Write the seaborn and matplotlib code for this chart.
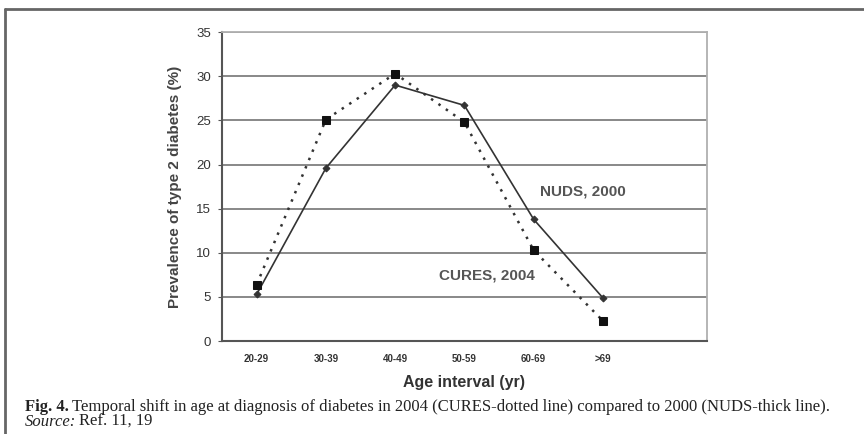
import numpy as np
import pandas as pd
import matplotlib.pyplot as plt
import seaborn as sns

# ======================= DATA ======================
age_groups = ["20-29", "30-39", "40-49", "50-59", "60-69", ">69"]
nuds_2000 = [5.3, 19.6, 29.0, 26.7, 13.8, 4.9]
cures_2004 = [6.4, 25.1, 30.3, 24.8, 10.3, 2.3]

df = pd.DataFrame({
    "pos": list(range(len(age_groups))) * 2,
    "age": age_groups * 2,
    "prevalence": nuds_2000 + cures_2004,
    "study": ["NUDS, 2000"] * len(age_groups) + ["CURES, 2004"] * len(age_groups),
})

sns.set_style("white")
plt.rcParams['font.family'] = ['Liberation Sans', 'DejaVu Sans']
serif = ["Liberation Serif", "DejaVu Serif"]

fig = plt.figure(figsize=(8.64, 4.34), dpi=100)
ax = fig.add_axes([0.257, 0.214, 0.561, 0.712])

# gridlines
ax.set_axisbelow(True)
ax.yaxis.grid(True, color="#888888", linewidth=1.4)

# NUDS - thick (solid) line
sns.lineplot(data=df[df.study == "NUDS, 2000"], x="pos", y="prevalence", ax=ax,
             color="#333333", linewidth=1.2, marker="D", markersize=3.5,
             markeredgecolor="#333333", legend=False)
# CURES - dotted line
sns.lineplot(data=df[df.study == "CURES, 2004"], x="pos", y="prevalence", ax=ax,
             color="#333333", linewidth=1.8, linestyle=(0, (1, 2.6)), marker="s",
             markersize=6, markerfacecolor="#111111", markeredgecolor="#111111",
             legend=False)

ax.set_xlim(-0.5, 6.5)
ax.set_ylim(0, 35)
ax.set_yticks(np.arange(0, 36, 5))
ax.set_xticks(range(len(age_groups)))
ax.set_xticklabels(age_groups, fontsize=7, fontweight="bold", color="#333333")
ax.set_xticks(np.arange(-0.5, 7, 1), minor=True)
ax.tick_params(axis="x", which="major", length=0, pad=9)
ax.tick_params(axis="x", which="minor", length=3, direction="inout", color="#555555")
ax.tick_params(axis="y", length=3, direction="out", color="#555555", labelsize=9.5,
               labelcolor="#333333", left=True, pad=5)

for side in ["left", "bottom"]:
    ax.spines[side].set_color("#555555")
    ax.spines[side].set_linewidth(1.5)
for side in ["right", "top"]:
    ax.spines[side].set_color("#b0b0b0")
    ax.spines[side].set_linewidth(1.3)

ax.set_xlabel("Age interval (yr)", fontsize=11.5, fontweight="bold", color="#333333", labelpad=8)
ax.set_ylabel("Prevalence of type 2 diabetes (%)", fontsize=11, fontweight="bold",
              color="#444444", labelpad=10)

ax.text(4.71, 16.9, "NUDS, 2000", fontsize=11, fontweight="bold", color="#555555",
        ha="center", va="center")
ax.text(3.32, 7.4, "CURES, 2004", fontsize=11, fontweight="bold", color="#555555",
        ha="center", va="center")

# frame lines of the scanned page
fig.add_artist(plt.Line2D([0.006, 1.0], [0.979, 0.979], color="#666666", linewidth=2,
                          transform=fig.transFigure))
fig.add_artist(plt.Line2D([0.006, 0.006], [0.0, 0.979], color="#666666", linewidth=2,
                          transform=fig.transFigure))

# caption
fig.text(0.029, 0.063, "Fig. 4.", fontsize=12, family=serif,
         fontweight="bold", color="#222222", va="center")
fig.text(0.083, 0.063, "Temporal shift in age at diagnosis of diabetes in 2004 (CURES-dotted line) "
         "compared to 2000 (NUDS-thick line).", fontsize=12, family=serif,
         color="#222222", va="center")
fig.text(0.029, 0.028, "Source:", fontsize=12, family=serif,
         style="italic", color="#222222", va="center")
fig.text(0.092, 0.028, "Ref. 11, 19", fontsize=12, family=serif,
         color="#222222", va="center")

fig.savefig("out.png", dpi=100)
